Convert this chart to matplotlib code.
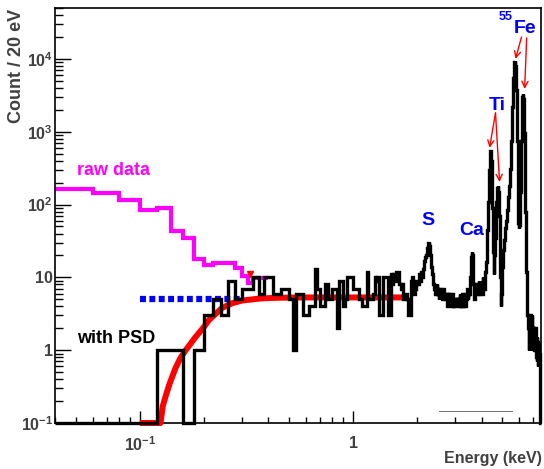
import numpy as np
import matplotlib
matplotlib.use("Agg")
import matplotlib.pyplot as plt
from matplotlib.ticker import LogLocator, NullFormatter, FixedLocator, FixedFormatter

plt.rcParams['font.family'] = 'Liberation Sans'
plt.rcParams['font.weight'] = 'bold'
plt.rcParams['mathtext.default'] = 'regular'

# histogram binning (keV): 20 eV bins starting at 40 eV
bin_start = 0.04
bin_width = 0.02

# spectrum with PSD, counts per 20 eV bin (one row = 0.2 keV)
psd_counts = [
    0, 0, 0, 0, 1, 1, 0, 1,                                          # 0.04
    3, 5, 3, 9, 5, 7, 7, 10, 6, 10,                                  # 0.20
    10, 6, 6, 7, 7, 5, 1, 6, 6, 3,                                   # 0.40
    3, 4, 4, 13, 7, 4, 4, 8, 5, 5,                                   # 0.60
    7, 7, 2, 9, 9, 4, 5, 10, 10, 10,                                 # 0.80
    7, 7, 7, 5, 5, 4, 4, 4, 12, 5,                                   # 1.00
    5, 5, 6, 10, 9, 10, 3, 3, 3, 10,                                 # 1.20
    10, 10, 10, 3, 3, 11, 8, 11, 9, 12,                              # 1.40
    12, 12, 8, 8, 7, 8, 5, 5, 6, 5,                                  # 1.60
    3, 3, 3, 9, 10, 9, 6, 8, 7, 8,                                   # 1.80
    9, 8, 11, 9, 12, 10, 13, 15, 17, 19,                             # 2.00
    20, 25, 30, 31, 27, 20, 14, 11, 9, 8,                            # 2.20
    7, 6, 7, 8, 6, 7, 5, 6, 7, 6,                                    # 2.40
    6, 5, 7, 5, 6, 5, 6, 5, 4, 6,                                    # 2.60
    5, 6, 4, 5, 4, 5, 6, 4, 5, 4,                                    # 2.80
    5, 4, 5, 4, 5, 4, 4, 5, 6, 4,                                    # 3.00
    5, 4, 6, 5, 4, 5, 6, 5, 4, 6,                                    # 3.20
    5, 7, 5, 6, 7, 6, 8, 10, 14, 19,                                 # 3.40
    22, 20, 12, 8, 6, 5, 6, 7, 6, 8,                                 # 3.60
    7, 6, 8, 7, 9, 6, 8, 7, 9, 8,                                    # 3.80
    7, 9, 6, 10, 8, 9, 7, 10, 12, 14,                                # 4.00
    16, 22, 30, 45, 66, 110, 190, 300, 420, 520,                     # 4.20
    550, 500, 400, 280, 170, 90, 45, 22, 12, 11,                     # 4.40
    20, 25, 35, 50, 75, 110, 145, 170, 182, 175,                     # 4.60
    150, 110, 70, 40, 20, 10, 6, 4, 6, 12,                           # 4.80
    14, 19, 18, 24, 26, 31, 33, 39, 41, 48,                          # 5.00
    52, 60, 66, 75, 84, 95, 108, 125, 140, 165,                      # 5.20
    180, 210, 250, 310, 400, 540, 750, 1050, 1500, 2200,             # 5.40
    3100, 4200, 5500, 6900, 8100, 9000, 9300, 9000, 8100, 6800,      # 5.60
    5200, 3700, 2400, 1400, 750, 380, 180, 90, 55, 47,               # 5.80
    48, 52, 65, 95, 150, 260, 450, 750, 1200, 1800,                  # 6.00
    2500, 3000, 3300, 3200, 2800, 2200, 1500, 950, 550, 300,         # 6.20
    160, 80, 40, 22, 12, 7, 5, 4, 3, 3,                              # 6.40
    2, 3, 2, 1, 3, 2, 2, 1, 2, 3,                                    # 6.60
    2, 1, 2, 2, 1, 3, 2, 1, 2, 1,                                    # 6.80
    2, 1, 1, 2, 1, 2, 1, 1, 2, 1,                                    # 7.00
    1.2, 0.8, 1.5, 0.7, 1, 1.3, 0.6, 1, 0.8, 1.2,                    # 7.20
    0.7, 1, 0.6, 0.9, 0.7, 0, 0, 0, 0, 0,                            # 7.40
]

# raw data (no PSD), 20 eV bins from 0.04 to 0.40 keV
raw_counts = [166, 146, 117, 85, 91, 43, 35, 17.6, 15,
              15.5, 15.5, 15.5, 13.3, 10.6, 8.3, 9.7, 9.7, 9.7]

# threshold fit curve
fit_energy = [0.10, 0.125, 0.128, 0.133, 0.138, 0.147, 0.155, 0.164, 0.182,
              0.20, 0.211, 0.243, 0.27, 0.301, 0.34, 0.373, 0.45, 0.6, 1.0, 1.75]
fit_counts = [0.1, 0.1, 0.17, 0.25, 0.35, 0.57, 0.78, 1.0, 1.5,
              2.1, 2.6, 3.8, 4.4, 4.8, 5.0, 5.15, 5.25, 5.3, 5.3, 5.3]

# flat level (blue dotted)
flat_energy = [0.10, 0.30]
flat_counts = [5.1, 5.1]

# small red marker on the raw data
marker_energy = [0.327]
marker_counts = [11.0]

# line labels: (text, energy, counts)
peak_labels = [('S', 2.24, 52), ('Ca', 3.61, 38), ('Ti', 4.73, 1990), ('Fe', 6.40, 22750)]
# arrows: (tail energy, tail counts, head energy, head counts)
peak_arrows = [(4.65, 1810, 4.36, 600), (4.65, 1810, 4.86, 204),
               (6.16, 20000, 5.77, 10000), (6.51, 19400, 6.37, 3870)]

y_ticks = [0.1, 1, 10, 100, 1000, 10000]
y_labels = ['$10^{-1}$', '1', '10', '$10^{2}$', '$10^{3}$', '$10^{4}$']
x_ticks = [0.1, 1]
x_labels = ['$10^{-1}$', '1']

y_floor = 0.1
gray = '#404040'

fig = plt.figure(figsize=(5.44, 4.69), dpi=100)
ax = fig.add_axes([55 / 544, 1 - 423 / 469, 486 / 544, 415 / 469])
ax.set_xscale('log')
ax.set_yscale('log')
ax.set_xlim(0.04, 7.6)
ax.set_ylim(y_floor, 5e4)

psd = np.array(psd_counts, dtype=float)
psd_edges = bin_start + bin_width * np.arange(len(psd) + 1)
raw = np.array(raw_counts, dtype=float)
raw_edges = bin_start + bin_width * np.arange(len(raw) + 1)

ax.stairs(raw, raw_edges, baseline=None, color='#ff00ff', lw=3, clip_on=False, zorder=2)
ax.plot(flat_energy, flat_counts, color='#0000ff', lw=4.5, dashes=(0.95, 0.55),
        dash_capstyle='butt', zorder=2)
ax.plot(fit_energy, fit_counts, color='#ff0000', lw=4.3, clip_on=False,
        solid_capstyle='butt', zorder=3)
ax.plot(marker_energy, marker_counts, ls='none', marker='v', ms=5, color='#ff0000', zorder=3)
ax.stairs(np.where(psd > 0, psd, y_floor), psd_edges, baseline=None, color='black',
          lw=2.4, clip_on=False, zorder=4)

# faint stray line near the bottom
ax.plot([2.54, 5.53], [0.146, 0.146], color='#707070', lw=0.7, zorder=1)

ax.text(0.0507, 255, 'raw data', color='#ff00ff', fontsize=13, ha='left', va='baseline')
ax.text(0.0507, 1.26, 'with PSD', color='black', fontsize=13, ha='left', va='baseline')
for txt, e, c in peak_labels:
    ax.text(e, c, txt, color='#0000ff', fontsize=14, ha='center', va='baseline')
ax.text(5.21, 34300, '55', color='#0000ff', fontsize=9, ha='center', va='baseline')
for e0, c0, e1, c1 in peak_arrows:
    ax.annotate('', xy=(e1, c1), xytext=(e0, c0),
                arrowprops=dict(arrowstyle='->', color='#ff0000', lw=1,
                                mutation_scale=11, shrinkA=0, shrinkB=0))

ax.xaxis.set_major_locator(FixedLocator(x_ticks))
ax.xaxis.set_major_formatter(FixedFormatter(x_labels))
ax.yaxis.set_major_locator(FixedLocator(y_ticks))
ax.yaxis.set_major_formatter(FixedFormatter(y_labels))
ax.xaxis.set_minor_locator(LogLocator(base=10, subs=np.arange(2, 10), numticks=100))
ax.yaxis.set_minor_locator(LogLocator(base=10, subs=np.arange(2, 10), numticks=100))
ax.xaxis.set_minor_formatter(NullFormatter())
ax.yaxis.set_minor_formatter(NullFormatter())

ax.tick_params(which='both', direction='in', top=False, right=False, width=1,
               labelsize=11.5, labelcolor=gray)
ax.tick_params(axis='x', which='major', length=8.5, pad=9)
ax.tick_params(axis='x', which='minor', length=4.5)
ax.tick_params(axis='y', which='major', length=11.5, pad=1.5)
ax.tick_params(axis='y', which='minor', length=6)
for sp in ax.spines.values():
    sp.set_linewidth(1.2)

fig.text(17 / 544, 1 - 9 / 469, 'Count / 20 eV', rotation=90, ha='center', va='top',
         fontsize=13, color=gray)
fig.text(542 / 544, 1 - 463 / 469, 'Energy (keV)', ha='right', va='baseline',
         fontsize=11.5, color=gray)

fig.savefig('out.png', dpi=100)
